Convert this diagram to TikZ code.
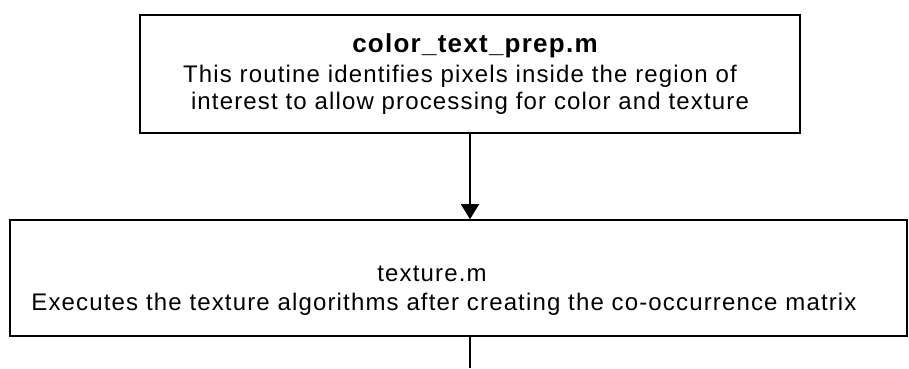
\documentclass[tikz,border=0pt]{standalone}
\usepackage{fontspec}
\setmainfont{Liberation Sans}[LetterSpace=4.8]
\usetikzlibrary{arrows.meta}
\tikzset{
  box/.style={draw=black, line width=1.6pt, rectangle, inner sep=0pt, fill=white},
  txt/.style={anchor=base, inner sep=0pt, font=\fontsize{24}{28}\selectfont},
  conn/.style={draw=black, line width=1.6pt},
  arr/.style={conn, -{Triangle[width=18pt,length=15pt]}}
}
\begin{document}
\begin{tikzpicture}[x=1pt,y=-1pt]
\useasboundingbox[fill=white] (0,0) rectangle (909,368);
% boxes
\node[box, minimum width=660pt, minimum height=118pt] (top) at (470,74) {};
\node[box, minimum width=897pt, minimum height=116pt] (bot) at (458.5,278) {};
% texts of the upper box
\node[txt, font=\fontsize{26}{30}\selectfont\bfseries] (t1) at (475,52) {color\_text\_prep.m};
\node[txt] (t2) at (460,82) {This routine identifies pixels inside the region of};
\node[txt] (t3) at (470,109) {interest to allow processing for color and texture};
% texts of the lower box
\node[txt] (b1) at (432,281) {texture.m};
\node[txt] (b2) at (444,310) {Executes the texture algorithms after creating the co-occurrence matrix};
% connectors
\coordinate (endc) at (470,368);
\draw[arr] (top.south) -- (top.south |- bot.north);
\draw[conn] (top.south |- bot.south) -- (endc);
\end{tikzpicture}
\end{document}
